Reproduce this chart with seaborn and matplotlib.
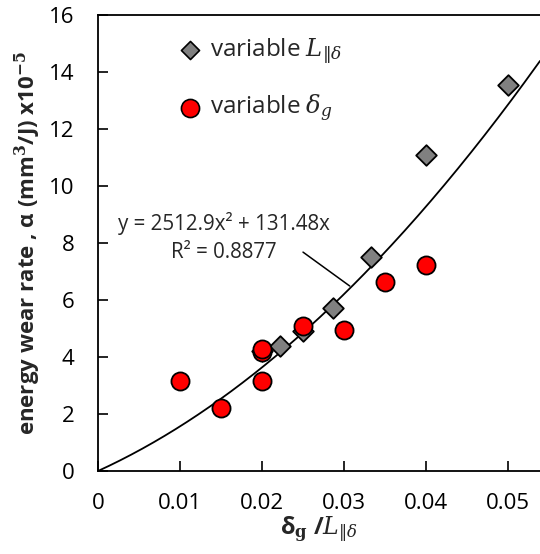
import numpy as np
import pandas as pd
import matplotlib
matplotlib.use("Agg")
import matplotlib.pyplot as plt
import seaborn as sns

# Data
x_L = [0.02, 0.0222, 0.025, 0.0286, 0.0333, 0.04, 0.05]
y_L = [4.2, 4.40, 4.90, 5.72, 7.52, 11.09, 13.54]
x_d = [0.01, 0.015, 0.02, 0.02, 0.02, 0.025, 0.03, 0.035, 0.04]
y_d = [3.16, 2.21, 3.16, 4.18, 4.28, 5.09, 4.95, 6.62, 7.23]
fit_a = 2512.9
fit_b = 131.48
xticks = [0, 0.01, 0.02, 0.03, 0.04, 0.05]
xtick_labels = ["0", "0.01", "0.02", "0.03", "0.04", "0.05"]
yticks = [0, 2, 4, 6, 8, 10, 12, 14, 16]

sns.set_style("white")
plt.rcParams['font.family'] = ['Open Sans', 'DejaVu Sans']
plt.rcParams['mathtext.fontset'] = 'dejavuserif'

fig = plt.figure(figsize=(5.4, 5.54), dpi=100)
ax = fig.add_axes([98/540, 83/554, 442/540, 456/554])

xf = np.linspace(0, 0.0539, 200)
fit_df = pd.DataFrame({"x": xf, "y": fit_a * xf**2 + fit_b * xf})
sns.lineplot(data=fit_df, x="x", y="y", ax=ax, color="black", linewidth=1.3, zorder=2)

dfL = pd.DataFrame({"x": x_L, "y": y_L})
dfd = pd.DataFrame({"x": x_d, "y": y_d})
sns.scatterplot(data=dfL, x="x", y="y", ax=ax, marker="D", s=110, color="#808080",
                edgecolor="black", linewidth=1.3, zorder=3)
sns.scatterplot(data=dfd, x="x", y="y", ax=ax, marker="o", s=170, color="#ff0000",
                edgecolor="black", linewidth=1.3, zorder=4)

ax.set_xlim(0, 0.0539)
ax.set_ylim(0, 16)
ax.set_xticks(xticks)
ax.set_xticklabels(xtick_labels)
ax.set_yticks(yticks)
ax.tick_params(direction="in", length=7, width=1.2, labelsize=16, colors="black",
               left=True, bottom=True)
ax.tick_params(axis="x", pad=16)
ax.tick_params(axis="y", pad=17)
for s in ["left", "bottom", "top"]:
    ax.spines[s].set_color("black")
    ax.spines[s].set_linewidth(1.3)
ax.spines["right"].set_visible(False)

ax.set_xlabel(r"δ$_\mathbf{g}$ /$\mathit{L}_{\Vert\delta}$", fontsize=17, fontweight="bold", labelpad=0)
ax.set_ylabel(r"energy wear rate , α (mm$^\mathbf{3}$/J) x10$^\mathbf{-5}$",
              fontsize=16, fontweight="bold", labelpad=4)

# legend (manual, inside plot)
ax.scatter([0.0112], [14.77], marker="D", s=85, color="#808080", edgecolor="black",
           linewidth=1.2, zorder=5)
ax.text(0.0137, 14.77, r"variable $L_{\Vert\delta}$", fontsize=17.5, va="center")
ax.scatter([0.0112], [12.74], marker="o", s=170, color="#ff0000", edgecolor="black",
           linewidth=1.2, zorder=5)
ax.text(0.0137, 12.74, r"variable $\delta_g$", fontsize=17.5, va="center")

# trendline equation
ax.text(0.0154, 8.70, "y = 2512.9x² + 131.48x", fontsize=14.8, ha="center", va="center")
ax.text(0.0154, 7.68, "R² = 0.8877", fontsize=14.8, ha="center", va="center")
ax.annotate("", xy=(0.0307, 6.49), xytext=(0.0250, 7.68),
            arrowprops=dict(arrowstyle="-", color="black", lw=1.1, shrinkA=0, shrinkB=0))

fig.savefig("out.png", dpi=100)
